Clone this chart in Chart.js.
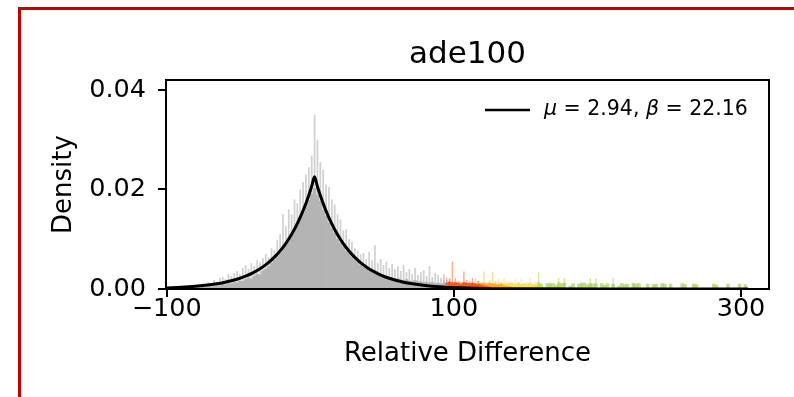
<!DOCTYPE html>
<html><head><meta charset="utf-8">
<script src="https://cdn.jsdelivr.net/npm/chart.js@4"></script>
<style>
html,body{margin:0;padding:0;background:#fff;}
#wrap{position:relative;width:794px;height:397px;overflow:hidden;background:#fff;}
canvas{position:absolute;left:0;top:0;}
#frame{position:absolute;left:18px;top:7px;width:800px;height:400px;border-left:3px solid #c40000;border-top:3px solid #c40000;pointer-events:none;}
</style></head><body>
<div id="wrap"><canvas id="c" width="794" height="397"></canvas><div id="frame"></div></div>
<script>
// ---------- data ----------
const chartTitle = 'ade100';
const xLabel = 'Relative Difference';
const yLabel = 'Density';
const xTicks = [-100, 100, 300];
const yTicks = [0, 0.02, 0.04];
const binWidth = 2;

// gray histogram (bin centres start at grayStart, step binWidth)
const grayStart = -99;
const grayBase = [
  0, 0, 0, .0001, 0, .0001, .0002, .0001, .0002, .0002,
  .0003, .0002, .0004, .0003, .0005, .0004, .0006, .0007, .0006, .0009,
  .0008, .0011, .0010, .0013, .0012, .0016, .0015, .0019, .0022, .0020,
  .0026, .0030, .0028, .0036, .0040, .0045, .0052, .0058, .0066, .0072,
  .0083, .0090, .0102, .0110, .0122, .0131, .0145, .0152, .0166, .0178,
  .0190, .0202, .0188, .0176, .0158, .0146, .0132, .0121, .0112, .0100,
  .0092, .0085, .0076, .0072, .0064, .0058, .0054, .0048, .0044, .0040,
  .0036, .0034, .0031, .0028, .0027, .0024, .0022, .0023, .0020, .0019,
  .0021, .0018, .0017, .0019, .0016, .0015, .0017, .0014, .0015, .0013,
  .0014, .0012, .0013, .0011, .0012, .0010, .0011, .0008, .0006, .0005
];
const graySpike = [
  0, .0002, .0003, .0002, .0004, .0003, .0006, .0004, .0008, .0005,
  .0009, .0007, .0011, .0010, .0014, .0011, .0018, .0015, .0022, .0024,
  .0020, .0030, .0026, .0032, .0036, .0030, .0042, .0048, .0040, .0052,
  .0046, .0058, .0054, .0062, .0070, .0064, .0082, .0078, .0098, .0110,
  .0150, .0126, .0160, .0150, .0180, .0172, .0200, .0215, .0230, .0245,
  .0268, .0350, .0300, .0255, .0240, .0210, .0205, .0180, .0170, .0150,
  .0140, .0118, .0120, .0100, .0095, .0082, .0078, .0070, .0072, .0060,
  .0075, .0058, .0088, .0052, .0060, .0048, .0055, .0042, .0050, .0040,
  .0045, .0036, .0048, .0034, .0040, .0030, .0042, .0028, .0034, .0038,
  .0026, .0046, .0024, .0032, .0028, .0022, .0030, .0018, .0022, .0016
];

// coloured tail
const redStart = 93;
const redBase  = [.0008,.0012,.0014,.0012,.0013,.0012,.0010,.0013,.0012,.0011,.0012,.0010,.0009,.0008,.0006,.0005,.0004];
const redSpike = [.0016,.0022,.0020,.0055,.0022,.0016,.0014,.0035,.0018,.0016,.0022,.0012,.0016,.0010,.0010,.0008,.0006];

const orangeStart = 113;
const orangeBase  = [.0004,.0010,.0012,.0011,.0012,.0010,.0012,.0011,.0010,.0008,.0009,.0006,.0005,.0004];
const orangeSpike = [.0008,.0022,.0016,.0014,.0035,.0014,.0018,.0035,.0016,.0014,.0012,.0010,.0008,.0006];

const yellowStart = 129;
const yellowBase  = [.0006,.0010,.0012,.0011,.0010,.0012,.0011,.0010,.0012,.0009,.0011,.0010,.0012,.0009,.0010,.0006];
const yellowSpike = [.0012,.0022,.0014,.0022,.0014,.0016,.0014,.0022,.0014,.0022,.0012,.0014,.0022,.0012,.0014,.0008];

const greenStart = 157;
const greenBase = [
  .0004,.0012,.0010,0,.0011,.0010,.0011,.0008,.0012,.0011,
  .0012,0,.0006,.0011,0,.0010,.0011,.0012,.0009,.0011,
  .0010,.0011,0,.0011,.0008,.0011,0,.0010,0,.0006,
  .0011,.0009,.0010,0,.0011,.0010,.0011,0,0,.0010,
  0,.0009,.0010,0,.0011,.0010,0,.0010,0,0,
  0,.0011,.0009,0,0,.0010,.0009,0,0,0,
  0,0,.0010,.0008,0,0,0,.0010,0,0,
  0,.0010,0,.0009,0
];
const greenSpike = [
  0,.0035,0,0,0,.0014,0,0,.0022,0,
  .0022,0,0,0,0,0,.0014,0,0,.0022,
  0,.0022,0,0,0,0,0,.0022,0,0,
  0,0,0,0,.0013,0,0,0,0,0,
  0,0,0,0,0,0,0,0,0,0,
  0,0,0,0,0,0,0,0,0,0,
  0,0,0,0,0,0,0,0,0,0,
  0,0,0,0,0
];

// fitted Laplace curve
const fitMu = 2.94, fitBeta = 22.16;
const fitX = [-100,-90,-80,-70,-65,-60,-55,-50,-45,-40,-35,-30,-25,-20,-17.5,-15,-12.5,-10,-7.5,-5,-2.5,0,1,2.94,5,7.5,10,12.5,15,17.5,20,22.5,25,30,35,40,45,50,55,60,65,70,80,90,100,120,150,200,250,305];
const fitY = [.000217,.000340,.000534,.000839,.001051,.001318,.001651,.002069,.002593,.003249,.004073,.005103,.006395,.008014,.008971,.010041,.011241,.012583,.014087,.015769,.017651,.019761,.020672,.022563,.020560,.018366,.016408,.014657,.013093,.011697,.010449,.009334,.008338,.006654,.005310,.004238,.003380,.002699,.002153,.001718,.001371,.001094,.000697,.000444,.000283,.000115,.0000297,.000003,.0000003,0];

// ---------- chart ----------
const pts = (start, arr) => arr.map((v, i) => ({x: start + i * binWidth, y: v}));
const FONT = '"DejaVu Sans"';
Chart.defaults.font.family = FONT;
Chart.defaults.color = '#000';

function barSet(label, start, arr, color, order, pct) {
  return {type: 'bar', label, data: pts(start, arr), backgroundColor: color, borderWidth: 0,
          grouped: false, barPercentage: pct, categoryPercentage: 1, order};
}

const frame = {
  id: 'frameBox',
  afterDraw(chart) {
    const {ctx, chartArea: a} = chart;
    ctx.save();
    ctx.strokeStyle = '#000'; ctx.lineWidth = 2;
    ctx.strokeRect(a.left, a.top, a.right - a.left, a.bottom - a.top);
    ctx.restore();
  }
};
const fitLegend = {
  id: 'fitLegend',
  afterDraw(chart) {
    const {ctx, chartArea: a} = chart;
    const ds = chart.data.datasets.find(d => d.type === 'line');
    ctx.save();
    const y = a.top + 30;
    ctx.strokeStyle = ds.borderColor; ctx.lineWidth = 2.5;
    ctx.beginPath(); ctx.moveTo(a.right - 284, y); ctx.lineTo(a.right - 239, y); ctx.stroke();
    let x = a.right - 225;
    ctx.textBaseline = 'middle'; ctx.fillStyle = '#000';
    const parts = [['\u03bc', true], [' = ' + fitMu.toFixed(2) + ', ', false], ['\u03b2', true], [' = ' + fitBeta.toFixed(2), false]];
    for (const [t, it] of parts) {
      ctx.font = (it ? 'italic ' : '') + '20.5px ' + FONT;
      ctx.fillText(t, x, y);
      x += ctx.measureText(t).width;
    }
    ctx.restore();
  }
};

new Chart(document.getElementById('c'), {
  type: 'bar',
  data: {
    datasets: [
      {type: 'line', label: '\u03bc = ' + fitMu + ', \u03b2 = ' + fitBeta,
       data: fitX.map((x, i) => ({x, y: fitY[i]})), borderColor: '#000', borderWidth: 3,
       pointRadius: 0, cubicInterpolationMode: 'monotone', fill: false, order: 0},
      barSet('gray', grayStart, grayBase, '#b4b4b4', 2, 1),
      barSet('red', redStart, redBase, 'rgba(255,69,0,0.85)', 3, 1),
      barSet('orange', orangeStart, orangeBase, 'rgba(255,165,0,0.8)', 4, 1),
      barSet('yellow', yellowStart, yellowBase, 'rgba(255,210,0,0.55)', 5, 1),
      barSet('green', greenStart, greenBase, 'rgba(154,205,50,0.6)', 6, 1),
      barSet('graySpike', grayStart, graySpike, 'rgba(170,170,170,0.55)', 7, 0.6),
      barSet('redSpike', redStart, redSpike, 'rgba(255,69,0,0.45)', 8, 0.5),
      barSet('orangeSpike', orangeStart, orangeSpike, 'rgba(255,165,0,0.4)', 9, 0.5),
      barSet('yellowSpike', yellowStart, yellowSpike, 'rgba(255,215,0,0.35)', 10, 0.5),
      barSet('greenSpike', greenStart, greenSpike, 'rgba(154,205,50,0.45)', 11, 0.5)
    ]
  },
  options: {
    responsive: false, animation: false, devicePixelRatio: 1,
    layout: {padding: {left: 0, right: 25, top: 0, bottom: 0}},
    plugins: {
      legend: {display: false}, tooltip: {enabled: false},
      title: {display: true, text: chartTitle, fullSize: false, color: '#000',
              font: {size: 31, weight: 'normal', lineHeight: 1}, padding: {top: 39.5, bottom: 9.5}}
    },
    scales: {
      x: {
        type: 'linear', min: -100.5, max: 319.5, offset: false,
        afterFit: s => { s.height = 108; },
        afterBuildTicks: s => { s.ticks = xTicks.map(v => ({value: v})); },
        grid: {display: true, drawOnChartArea: false, offset: false, tickLength: 8, tickColor: '#000', tickWidth: 2, lineWidth: 2},
        border: {display: false},
        ticks: {font: {size: 25.5, lineHeight: 1}, padding: 0, maxRotation: 0,
                callback: v => v < 0 ? '\u2212' + Math.abs(v) : String(v)},
        title: {display: true, text: xLabel, font: {size: 26, lineHeight: 1}, padding: {top: 0, bottom: 30}}
      },
      y: {
        type: 'linear', min: 0, max: 0.042,
        afterFit: s => { s.width = 166; },
        afterBuildTicks: s => { s.ticks = yTicks.map(v => ({value: v})); },
        grid: {display: true, drawOnChartArea: false, tickLength: 8, tickColor: '#000', tickWidth: 2, lineWidth: 2},
        border: {display: false},
        ticks: {font: {size: 25.5, lineHeight: 1}, padding: 12, callback: v => v.toFixed(2)},
        title: {display: true, text: yLabel, font: {size: 26, lineHeight: 1}, padding: {top: 51, bottom: 0}}
      }
    }
  },
  plugins: [frame, fitLegend]
});
</script>
</body></html>
